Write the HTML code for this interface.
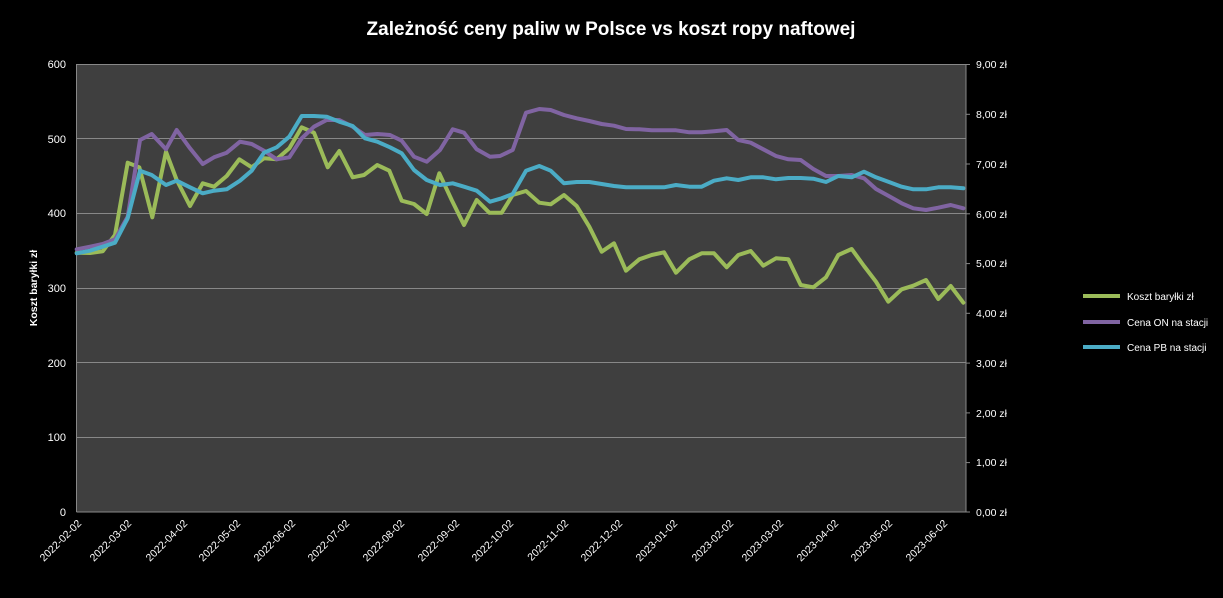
<!DOCTYPE html>
<html><head><meta charset="utf-8"><style>
body{margin:0;background:#000;}
svg{display:block;font-family:"Liberation Sans",Arial,sans-serif;}
</style></head><body>
<svg width="1223" height="598" xmlns="http://www.w3.org/2000/svg">
<rect width="1223" height="598" fill="#000"/>
<text x="611" y="35" fill="#fff" font-size="19" font-weight="bold" text-anchor="middle">Zależność ceny paliw w Polsce vs koszt ropy naftowej</text>
<rect x="76.5" y="64" width="889.5" height="448" fill="#3f3f3f"/>
<g stroke="#888" stroke-width="1">
<line x1="76.5" y1="64.5" x2="966" y2="64.5"/>
<line x1="76.5" y1="138.5" x2="966" y2="138.5"/>
<line x1="76.5" y1="213.5" x2="966" y2="213.5"/>
<line x1="76.5" y1="288.5" x2="966" y2="288.5"/>
<line x1="76.5" y1="362.5" x2="966" y2="362.5"/>
<line x1="76.5" y1="437.5" x2="966" y2="437.5"/>
<line x1="76.5" y1="512" x2="966" y2="512"/>
<line x1="76.5" y1="64" x2="76.5" y2="512"/>
<line x1="966" y1="64" x2="966" y2="512"/>
<line x1="966" y1="64.5" x2="970" y2="64.5"/>
<line x1="966" y1="114.3" x2="970" y2="114.3"/>
<line x1="966" y1="164" x2="970" y2="164"/>
<line x1="966" y1="213.8" x2="970" y2="213.8"/>
<line x1="966" y1="263.6" x2="970" y2="263.6"/>
<line x1="966" y1="313.3" x2="970" y2="313.3"/>
<line x1="966" y1="363.1" x2="970" y2="363.1"/>
<line x1="966" y1="412.9" x2="970" y2="412.9"/>
<line x1="966" y1="462.6" x2="970" y2="462.6"/>
<line x1="966" y1="512" x2="970" y2="512"/>
</g>
<g fill="#fff" font-size="11" text-anchor="end">
<text x="66" y="68">600</text><text x="66" y="143">500</text><text x="66" y="217">400</text><text x="66" y="292">300</text><text x="66" y="367">200</text><text x="66" y="441">100</text><text x="66" y="516">0</text>
</g>
<g fill="#fff" font-size="10.5">
<text x="976" y="68">9,00 zł</text><text x="976" y="118">8,00 zł</text><text x="976" y="168">7,00 zł</text><text x="976" y="218">6,00 zł</text><text x="976" y="267">5,00 zł</text><text x="976" y="317">4,00 zł</text><text x="976" y="367">3,00 zł</text><text x="976" y="417">2,00 zł</text><text x="976" y="466">1,00 zł</text><text x="976" y="516">0,00 zł</text>
</g>
<text transform="translate(37,288) rotate(-90)" fill="#fff" font-size="10.5" font-weight="bold" text-anchor="middle">Koszt baryłki zł</text>
<g fill="#fff" font-size="10.5" text-anchor="end">
<text transform="translate(82,524) rotate(-45)">2022-02-02</text>
<text transform="translate(132,524) rotate(-45)">2022-03-02</text>
<text transform="translate(188,524) rotate(-45)">2022-04-02</text>
<text transform="translate(241,524) rotate(-45)">2022-05-02</text>
<text transform="translate(296,524) rotate(-45)">2022-06-02</text>
<text transform="translate(350,524) rotate(-45)">2022-07-02</text>
<text transform="translate(405,524) rotate(-45)">2022-08-02</text>
<text transform="translate(460,524) rotate(-45)">2022-09-02</text>
<text transform="translate(514,524) rotate(-45)">2022-10-02</text>
<text transform="translate(569,524) rotate(-45)">2022-11-02</text>
<text transform="translate(623,524) rotate(-45)">2022-12-02</text>
<text transform="translate(678,524) rotate(-45)">2023-01-02</text>
<text transform="translate(734,524) rotate(-45)">2023-02-02</text>
<text transform="translate(784,524) rotate(-45)">2023-03-02</text>
<text transform="translate(839,524) rotate(-45)">2023-04-02</text>
<text transform="translate(893,524) rotate(-45)">2023-05-02</text>
<text transform="translate(948,524) rotate(-45)">2023-06-02</text>
</g>
<g fill="none" stroke-width="4" stroke-linejoin="round" stroke-linecap="round">
<polyline stroke="#9bbb59" points="76.7,252.7 90,253 102.7,251.3 115,235 127.7,162.7 139.3,167.3 152.3,217.3 166,151.7 176.7,180 190,206 202.7,183.3 214,186.7 226.7,176 239.3,159.3 251.7,167.3 264,158.3 276.7,159.3 289.3,148.3 301.7,127.3 314,132.7 327.7,167.3 339.3,151 352.7,177.3 364,175 377.3,165 389.3,170.7 401.7,200.7 414,204 426.7,214 439.3,173.3 451.7,200 464,225 476.7,200 489.3,212.7 501.7,212.7 512.7,195 526,191 539.3,202.7 550.7,204.3 564,195 576.7,206 589.3,226.7 601.7,251.7 614,243.3 626,270.7 639.3,259.3 651.7,255 664,252.3 676,272.7 689.3,259.3 701.7,253.3 714,253.3 726.7,267.3 738.3,255 750.7,251 763.3,265.7 776,258.3 788.3,259.3 800.7,285 813.3,287.3 826,277.3 838.3,255 851.7,249 864,266 876,281.7 888.3,301.7 901.7,289.3 913.3,285.7 926,280 938.3,299 950.7,286 963.3,302.7"/>
<polyline stroke="#8064a2" points="76.7,249.3 90,246.7 102.7,244 115,239.3 127.7,216.7 140,140 151.7,134 166,149.3 176.7,130 190,148.3 202.7,164 214,157.3 226.7,152.7 240,141.7 251.7,144 264,150.7 276.7,159.3 289.3,157.3 301.7,138.3 314,126.7 326.7,120 339.3,120 352.7,126.7 365,135 377.3,134 390,135 401.7,140.7 414,156.7 426.7,161.7 440,150 452.7,129.3 464,132.7 476.7,149.3 490,156.7 500,156 512.7,150 526,112.7 539.3,109 550.7,110 564,115 576.7,118.3 589.3,121 601.7,124 614,125.7 626,129 639.3,129.3 651.7,130.3 664,130.3 676,130.3 689.3,132.3 701.7,132.3 714,131.3 726.7,130 738.3,140 750.7,142.7 763.3,149.3 776,156 788.3,159.3 800.7,160 813.3,169 826,176 838.3,176 851.7,175 864,178.3 876,189 888.3,195.7 901.7,203.3 913.3,208.3 926,210 938.3,207.7 950.7,205 963.3,208.3"/>
<polyline stroke="#4bacc6" points="76.7,253.3 90,250.7 102.7,246.7 115,242.7 127.7,218.3 140,170.7 151.7,175 166,185 176.7,180.7 190,187.3 202.7,193.3 214,190.7 226.7,189.3 240,180.7 251.7,170.7 264,152.7 276.7,147.3 289.3,136.7 301.7,116 314,116 326.7,116.7 339.3,121.7 352.7,126 365,138.3 377.3,141.7 390,147.3 401.7,153.3 414,170 426.7,180 440,185 452.7,183.3 464,186.7 476.7,190.7 490,201.7 501.7,198.3 512.7,194 526,170.7 539.3,166 550.7,170.7 564,183.3 576.7,182 589.3,182 601.7,184 614,186 626,187.3 639.3,187.3 651.7,187.3 664,187.3 676,185 689.3,186.7 701.7,186.7 714,180.7 726.7,178.3 738.3,180 750.7,177.3 763.3,177.3 776,179.3 788.3,178 800.7,178 813.3,178.7 826,182 838.3,176 851.7,177.3 864,171.7 876,177.3 888.3,181.7 901.7,186.7 913.3,189.3 926,189.3 938.3,187.3 950.7,187.3 963.3,188.3"/>
</g>
<g stroke-width="4">
<line x1="1083" y1="296" x2="1120" y2="296" stroke="#9bbb59"/>
<line x1="1083" y1="322" x2="1120" y2="322" stroke="#8064a2"/>
<line x1="1083" y1="347" x2="1120" y2="347" stroke="#4bacc6"/>
</g>
<g fill="#fff" font-size="10">
<text x="1127" y="300">Koszt baryłki zł</text>
<text x="1127" y="326">Cena ON na stacji</text>
<text x="1127" y="351">Cena PB na stacji</text>
</g>
</svg>
</body></html>
